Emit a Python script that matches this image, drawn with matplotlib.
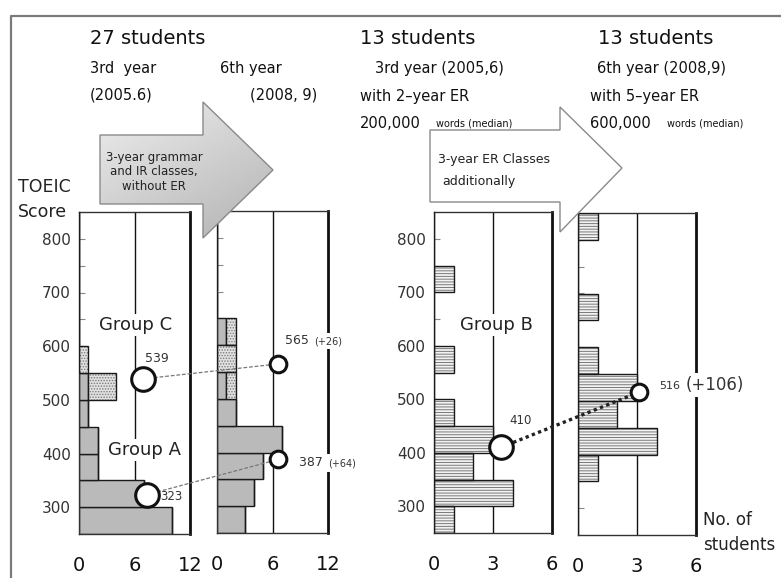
import numpy as np
import matplotlib.pyplot as plt
from matplotlib.patches import Polygon
from matplotlib.colors import LinearSegmentedColormap

plt.rcParams['font.family'] = ['DejaVu Sans']
plt.rcParams['hatch.linewidth'] = 0.7

W, H = 781, 578

# TOEIC score bins (lower edge, 50 points wide)
bins = [250, 300, 350, 400, 450, 500, 550, 600, 650, 700, 750, 800]

# 27 students: Group A / Group C
y3_groupA = [10, 7, 2, 2, 1, 1, 0, 0, 0, 0, 0, 0]
y3_groupC = [0, 0, 0, 0, 0, 3, 1, 0, 0, 0, 0, 0]
y6_groupA = [3, 4, 5, 7, 2, 1, 0, 1, 0, 0, 0, 0]
y6_groupC = [0, 0, 0, 0, 0, 1, 2, 1, 0, 0, 0, 0]

# 13 students: Group B
y3_groupB = [1, 4, 2, 3, 1, 0, 1, 0, 0, 1, 0, 0]
y6_groupB = [0, 0, 1, 4, 2, 3, 1, 0, 1, 0, 0, 1]

# medians (3rd year, 6th year)
median_A = [323, 387]
median_C = [539, 565]
median_B = [410, 516]

ymin, ymax = 250, 850

fig = plt.figure(figsize=(W / 100, H / 100), dpi=100)


def px_box(box):
    x0, y0, x1, y1 = box
    return [x0 / W, 1 - y1 / H, (x1 - x0) / W, (y1 - y0) / H]


def to_px(box, xmax, x, y):
    x0, y0, x1, y1 = box
    return (x0 + x / xmax * (x1 - x0),
            y1 - (y - ymin) / (ymax - ymin) * (y1 - y0))


def make_panel(box, xmax, show_ylabels):
    ax = fig.add_axes(px_box(box))
    ax.set_xlim(0, xmax)
    ax.set_ylim(ymin, ymax)
    ax.axvline(xmax / 2, color='#111111', lw=1.0, zorder=1)
    for s in ['left', 'top', 'bottom']:
        ax.spines[s].set_linewidth(1.0)
        ax.spines[s].set_color('#333333')
    ax.spines['right'].set_linewidth(2.0)
    ax.spines['right'].set_color('#111111')
    ax.set_xticks([0, xmax / 2, xmax])
    ax.set_xticklabels([f'{v:g}' for v in [0, xmax / 2, xmax]])
    ax.tick_params(axis='x', length=0, pad=16, labelsize=14, labelcolor='#111111')
    ax.set_yticks([300, 400, 500, 600, 700, 800])
    ax.set_yticks([350, 450, 550, 650, 750], minor=True)
    ax.tick_params(axis='y', which='both', direction='in', length=4,
                   color='#888888', width=0.8, labelsize=11, labelcolor='#333333', pad=6)
    if not show_ylabels:
        ax.set_yticklabels([])
    return ax


def bars_solid(ax, vals, left=None):
    ax.barh(bins, vals, height=50, align='edge', left=left,
            color='#bababa', edgecolor='#1a1a1a', lw=1.0, zorder=2)


def bars_hatched(ax, vals, left, face, hatch, hcol):
    ax.barh(bins, vals, height=50, align='edge', left=left,
            color=face, edgecolor=hcol, hatch=hatch, lw=0, zorder=2)
    ax.barh(bins, vals, height=50, align='edge', left=left,
            color='none', edgecolor='#1a1a1a', lw=1.0, zorder=3)


box1 = (79, 212, 190, 534)
box2 = (217, 211, 328, 533)
box3 = (434, 212, 552, 533)
box4 = (578, 213, 696, 535)

ax1 = make_panel(box1, 12, True)
ax2 = make_panel(box2, 12, False)
ax3 = make_panel(box3, 6, True)
ax4 = make_panel(box4, 6, False)

bars_solid(ax1, y3_groupA)
bars_hatched(ax1, y3_groupC, y3_groupA, '#e2e2e2', '......', '#7a7a7a')
bars_solid(ax2, y6_groupA)
bars_hatched(ax2, y6_groupC, y6_groupA, '#e2e2e2', '......', '#7a7a7a')
bars_hatched(ax3, y3_groupB, None, '#f2f2f2', '------', '#7a7a7a')
bars_hatched(ax4, y6_groupB, None, '#f2f2f2', '------', '#7a7a7a')

# overlay in pixel coordinates
ax0 = fig.add_axes([0, 0, 1, 1])
ax0.set_zorder(10)
ax0.patch.set_alpha(0)
ax0.set_autoscale_on(False)
ax0.set_xlim(0, W)
ax0.set_ylim(H, 0)
ax0.axis('off')

# outer frame
ax0.plot([11, 11, W + 5], [H + 5, 16, 16], color='#7a7a7a', lw=1.6, zorder=1)

# arrow 1 (grey gradient)
arrow1 = [(100, 135), (203, 135), (203, 102), (273, 170), (203, 238), (203, 204), (100, 204)]
p1 = Polygon(arrow1, closed=True, facecolor='none', edgecolor='#8a8a8a', lw=1.0, zorder=3)
ax0.add_patch(p1)
gx, gy = np.meshgrid(np.linspace(0, 1, 120), np.linspace(0, 1, 120))
grad = 0.4 * gx + 0.6 * gy
cmap = LinearSegmentedColormap.from_list('g', ['#eeeeee', '#b2b2b2'])
im = ax0.imshow(grad, extent=(100, 273, 238, 102), cmap=cmap, aspect='auto', zorder=2)
im.set_clip_path(p1)
ax0.text(154, 172, '3-year grammar\nand IR classes,\nwithout ER', ha='center', va='center',
         fontsize=8.5, color='#222222', linespacing=1.2, zorder=4)

# arrow 2 (white)
arrow2 = [(430, 130), (560, 130), (560, 107), (622, 168), (560, 232), (560, 202), (430, 202)]
ax0.add_patch(Polygon(arrow2, closed=True, facecolor='white', edgecolor='#8a8a8a', lw=1.0, zorder=3))
ax0.text(438, 160, '3-year ER Classes', ha='left', va='center', fontsize=9, color='#222222', zorder=4)
ax0.text(442, 182, 'additionally', ha='left', va='center', fontsize=9, color='#222222', zorder=4)

# headers
tc = '#111111'
ax0.text(90, 38, '27 students', fontsize=14, va='center', color=tc)
ax0.text(90, 68, '3rd  year', fontsize=10.5, va='center', color=tc)
ax0.text(90, 95, '(2005.6)', fontsize=10.5, va='center', color=tc)
ax0.text(220, 68, '6th year', fontsize=10.5, va='center', color=tc)
ax0.text(250, 95, '(2008, 9)', fontsize=10.5, va='center', color=tc)

ax0.text(360, 38, '13 students', fontsize=14, va='center', color=tc)
ax0.text(375, 68, '3rd year (2005,6)', fontsize=10.5, va='center', color=tc)
ax0.text(360, 96, 'with 2\u2013year ER', fontsize=10.5, va='center', color=tc)
ax0.text(360, 123, '200,000', fontsize=10.5, va='center', color=tc)
ax0.text(436, 124, 'words (median)', fontsize=7, va='center', color=tc)

ax0.text(598, 38, '13 students', fontsize=14, va='center', color=tc)
ax0.text(597, 68, '6th year (2008,9)', fontsize=10.5, va='center', color=tc)
ax0.text(590, 96, 'with 5\u2013year ER', fontsize=10.5, va='center', color=tc)
ax0.text(590, 123, '600,000', fontsize=10.5, va='center', color=tc)
ax0.text(667, 124, 'words (median)', fontsize=7, va='center', color=tc)

ax0.text(18, 187, 'TOEIC', fontsize=12.5, va='center', color='#222222')
ax0.text(18, 212, 'Score', fontsize=12.5, va='center', color='#222222')
ax0.text(703, 520, 'No. of', fontsize=12, va='center', color='#222222')
ax0.text(703, 545, 'students', fontsize=12, va='center', color='#222222')

wb = dict(facecolor='white', edgecolor='none', pad=1.5)
ax0.text(136, 325, 'Group C', fontsize=13, ha='center', va='center', color='#222222', bbox=wb)
ax0.text(145, 450, 'Group A', fontsize=13, ha='center', va='center', color='#222222', bbox=wb)
ax0.text(496, 325, 'Group B', fontsize=13, ha='center', va='center', color='#222222', bbox=wb)

# medians and connecting lines
cA1 = to_px(box1, 12, 7.3, median_A[0])
cA2 = to_px(box2, 12, 6.6, median_A[1])
cC1 = to_px(box1, 12, 6.9, median_C[0])
cC2 = to_px(box2, 12, 6.6, median_C[1])
cB1 = to_px(box3, 6, 3.4, median_B[0])
cB2 = to_px(box4, 6, 3.1, median_B[1])

ax0.plot([cA1[0], cA2[0]], [cA1[1], cA2[1]], color='#777777', lw=0.9, ls=(0, (3, 1.5)), zorder=5)
ax0.plot([cC1[0], cC2[0]], [cC1[1], cC2[1]], color='#777777', lw=0.9, ls=(0, (3, 1.5)), zorder=5)
ax0.plot([cB1[0], cB2[0]], [cB1[1], cB2[1]], color='#222222', lw=2.4, ls=(0, (1, 1)), zorder=5)

big = dict(marker='o', ms=17, mfc='white', mec='#111111', mew=2.2, zorder=6)
small = dict(marker='o', ms=12, mfc='white', mec='#111111', mew=2.2, zorder=6)
ax0.plot(*cA1, **big)
ax0.plot(*cC1, **big)
ax0.plot(*cB1, **big)
ax0.plot(*cA2, **small)
ax0.plot(*cC2, **small)
ax0.plot(*cB2, **small)

nb = dict(facecolor='white', edgecolor='none', pad=2)
ax0.text(157, 359, f'{median_C[0]}', fontsize=9, ha='center', va='center', color='#333333')
ax0.text(160, 497, f'{median_A[0]}', fontsize=8.5, ha='left', va='center', color='#333333')
ax0.text(285, 341, f'{median_C[1]} ', fontsize=9, ha='left', va='center', color='#333333', bbox=nb)
ax0.text(314, 341, f'(+{median_C[1] - median_C[0]})', fontsize=7, ha='left', va='center', color='#333333', bbox=nb)
ax0.text(299, 463, f'{median_A[1]} ', fontsize=9, ha='left', va='center', color='#333333', bbox=nb)
ax0.text(328, 463, f'(+{median_A[1] - median_A[0]})', fontsize=7, ha='left', va='center', color='#333333', bbox=nb)
ax0.text(509, 420, f'{median_B[0]}', fontsize=8.5, ha='left', va='center', color='#333333')
ax0.text(659, 386, f'{median_B[1]}', fontsize=8, ha='left', va='center', color='#333333', bbox=nb)
ax0.text(686, 385, f'(+{median_B[1] - median_B[0]})', fontsize=12, ha='left', va='center', color='#333333', bbox=nb)

fig.savefig('out.png', dpi=100)
